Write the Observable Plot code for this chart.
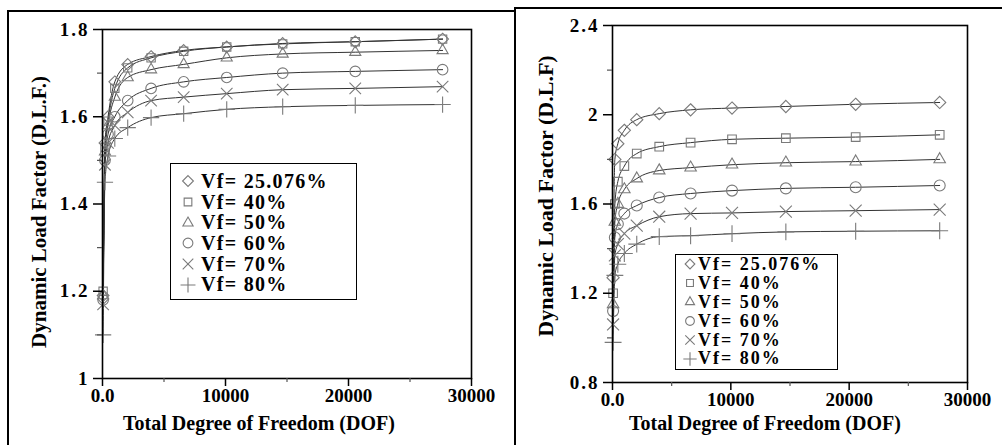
<!DOCTYPE html>
<html>
<head>
<meta charset="utf-8">
<script src="https://cdn.jsdelivr.net/npm/d3@7"></script>
<script src="https://cdn.jsdelivr.net/npm/@observablehq/plot@0.6"></script>
<style>
  html, body { margin: 0; padding: 0; background: #fff; }
  #wrap { position: relative; width: 1002px; height: 445px; overflow: hidden; font-family: "Liberation Serif", "DejaVu Serif", serif; }
  .line { position: absolute; background: #000; }
  .panel { position: absolute; }
  g[aria-label="y-axis tick label"] text { letter-spacing: 2px; }
  .legend { position: absolute; border: 1.5px solid #000; background: #fff; box-sizing: border-box;
            font-family: "Liberation Serif", serif; font-weight: bold; color: #000; }
  .legend .row { position: relative; white-space: nowrap; }
  .legend svg { position: absolute; }
</style>
</head>
<body>
<div id="wrap"></div>
<script>
// ---- data ----
const seriesLabels = ["Vf= 25.076%", "Vf= 40%", "Vf= 50%", "Vf= 60%", "Vf= 70%", "Vf= 80%"];
const dof = [50, 200, 450, 1000, 2050, 3950, 6600, 10100, 14650, 20550, 27650];

// left chart
const vf25L = [1.19, 1.54, 1.60, 1.68, 1.72, 1.738, 1.752, 1.76, 1.768, 1.772, 1.778];
const vf40L = [1.20, 1.53, 1.59, 1.665, 1.712, 1.735, 1.75, 1.76, 1.767, 1.772, 1.778];
const vf50L = [1.19, 1.52, 1.58, 1.645, 1.69, 1.708, 1.72, 1.735, 1.744, 1.748, 1.752];
const vf60L = [1.18, 1.50, 1.56, 1.60, 1.637, 1.665, 1.68, 1.69, 1.70, 1.704, 1.708];
const vf70L = [1.17, 1.49, 1.54, 1.58, 1.61, 1.637, 1.645, 1.653, 1.662, 1.665, 1.669];
const vf80L = [1.10, 1.45, 1.51, 1.55, 1.575, 1.598, 1.607, 1.617, 1.623, 1.626, 1.628];

// right chart
const vf25R = [1.27, 1.80, 1.87, 1.93, 1.978, 2.005, 2.022, 2.03, 2.037, 2.047, 2.055];
const vf40R = [1.20, 1.60, 1.70, 1.77, 1.826, 1.857, 1.875, 1.89, 1.895, 1.90, 1.91];
const vf50R = [1.15, 1.52, 1.60, 1.665, 1.714, 1.75, 1.763, 1.776, 1.785, 1.79, 1.80];
const vf60R = [1.12, 1.45, 1.51, 1.557, 1.593, 1.629, 1.647, 1.66, 1.67, 1.675, 1.683];
const vf70R = [1.06, 1.37, 1.42, 1.467, 1.503, 1.543, 1.557, 1.56, 1.566, 1.57, 1.575];
const vf80R = [0.98, 1.28, 1.33, 1.378, 1.42, 1.454, 1.458, 1.467, 1.475, 1.478, 1.48];

const xMajor = [0, 10000, 20000, 30000];
const xMinor = [5000, 15000, 25000];
const yMajorL = [1, 1.2, 1.4, 1.6, 1.8];
const yMinorL = [1.1, 1.3, 1.5, 1.7];
const yMajorR = [0.8, 1.2, 1.6, 2, 2.4];
const yMinorR = [1.0, 1.4, 1.8, 2.2];

const xTitle = "Total Degree of Freedom (DOF)";
const yTitleL = "Dynamic Load Factor (D.L.F.)";
const yTitleR = "Dynamic Load Factor (D.L.F)";

const symbols = ["diamond2", "square2", "triangle2", "circle", "times", "plus"];

// ---- helpers ----
function toRows(arrs) {
  const rows = [];
  arrs.forEach((arr, i) => arr.forEach((v, j) => rows.push({series: seriesLabels[i], dof: dof[j], dlf: v})));
  return rows;
}
const xFmt = d => d === 0 ? "0.0" : String(d);

function chart(o) {
  const rows = toRows(o.series);
  return Plot.plot({
    width: o.width, height: o.height,
    marginLeft: o.ml, marginRight: o.mr, marginTop: o.mt, marginBottom: o.mb,
    style: {fontFamily: "'Liberation Serif', serif", fontWeight: "bold", fontSize: "19px", color: "#000", background: "transparent", overflow: "visible"},
    x: {domain: [0, 30000], axis: null},
    y: {domain: o.ydomain, axis: null},
    symbol: {domain: seriesLabels, range: symbols},
    marks: [
      Plot.line(rows, {x: "dof", y: "dlf", z: "series", curve: "monotone-x", stroke: "#333", strokeWidth: 1}),
      Plot.dot(rows, {x: "dof", y: "dlf", symbol: "series", stroke: "#7a7a7a", fill: "none", strokeWidth: 1.1, r: o.r}),
      Plot.frame({stroke: "#000", strokeWidth: 1.6}),
      Plot.axisX({ticks: xMajor, tickFormat: xFmt, tickSize: 8, tickPadding: 2, label: null, strokeWidth: 1.5, fontSize: 19}),
      Plot.axisX({ticks: xMinor, tickFormat: () => "", tickSize: 4, label: null, strokeWidth: 1.2, stroke: "#555"}),
      Plot.axisY({ticks: o.yMajor, tickFormat: d => String(d), tickSize: 9, tickPadding: 4, label: null, strokeWidth: 1.5, fontSize: 19}),
      Plot.axisY({ticks: o.yMinor, tickFormat: () => "", tickSize: 5, label: null, strokeWidth: 1.2, stroke: "#555"}),
      Plot.text([xTitle], {frameAnchor: "bottom", dy: o.xdy, dx: o.xdx, fontSize: 20, fontWeight: "bold", lineAnchor: "middle", textAnchor: "middle"}),
      Plot.text([o.yTitle], {frameAnchor: "left", rotate: -90, dx: o.ydx, dy: o.ydy, fontSize: o.yfs, fontWeight: "bold", lineAnchor: "middle", textAnchor: "middle"})
    ]
  });
}

function legend(o) {
  const box = document.createElement("div");
  box.className = "legend";
  Object.assign(box.style, {left: o.left + "px", top: o.top + "px", width: o.width + "px", height: o.height + "px",
    fontSize: o.fs + "px", paddingTop: o.pt + "px", letterSpacing: o.ls + "px"});
  const types = [d3.symbolDiamond2, d3.symbolSquare2, d3.symbolTriangle2, d3.symbolCircle, d3.symbolTimes, d3.symbolPlus];
  seriesLabels.forEach((lab, i) => {
    const row = document.createElement("div");
    row.className = "row";
    row.style.height = o.lh + "px";
    row.style.lineHeight = o.lh + "px";
    row.style.paddingLeft = o.textX + "px";
    row.textContent = lab;
    const s = d3.create("svg").attr("width", 16).attr("height", 16)
      .style("left", (o.symX - 8) + "px").style("top", (o.lh / 2 - 8) + "px");
    s.append("path").attr("transform", "translate(8,8)")
      .attr("d", d3.symbol(types[i], o.symSize)())
      .attr("fill", "none").attr("stroke", "#7a7a7a").attr("stroke-width", 1.1);
    row.prepend(s.node());
    box.appendChild(row);
  });
  return box;
}

const wrap = document.getElementById("wrap");
function addLine(l, t, w, h) {
  const d = document.createElement("div");
  d.className = "line";
  Object.assign(d.style, {left: l + "px", top: t + "px", width: w + "px", height: h + "px"});
  wrap.appendChild(d);
}
// panel frames
addLine(7, 10, 508, 1.5);
addLine(7, 10, 1.5, 435);
addLine(514, 7, 488, 1.5);
addLine(514, 7, 1.5, 438);

const left = chart({
  series: [vf25L, vf40L, vf50L, vf60L, vf70L, vf80L],
  width: 490, height: 435, ml: 94, mr: 27, mt: 19, mb: 67,
  ydomain: [1, 1.8], yMajor: yMajorL, yMinor: yMinorL, r: 5.3,
  yTitle: yTitleL, xdy: 45, xdx: -28, ydx: -63, ydy: 8, yfs: 21
});
const lp = document.createElement("div");
lp.className = "panel";
Object.assign(lp.style, {left: "8px", top: "10px"});
lp.appendChild(left);
wrap.appendChild(lp);

const right = chart({
  series: [vf25R, vf40R, vf50R, vf60R, vf70R, vf80R],
  width: 487, height: 437, ml: 97, mr: 35, mt: 17, mb: 63,
  ydomain: [0.8, 2.4], yMajor: yMajorR, yMinor: yMinorR, r: 5.5,
  yTitle: yTitleR, xdy: 41, xdx: -25, ydx: -67, ydy: -8, yfs: 22
});
const rp = document.createElement("div");
rp.className = "panel";
Object.assign(rp.style, {left: "515px", top: "8px"});
rp.appendChild(right);
wrap.appendChild(rp);

wrap.appendChild(legend({left: 170, top: 163, width: 187, height: 137, fs: 20, ls: 1.3, pt: 7, lh: 20.7, symX: 17, textX: 30, symSize: 75}));
wrap.appendChild(legend({left: 675, top: 254, width: 163, height: 116, fs: 18, ls: 2, pt: 0, lh: 18.9, symX: 14, textX: 22, symSize: 60}));
</script>
</body>
</html>
